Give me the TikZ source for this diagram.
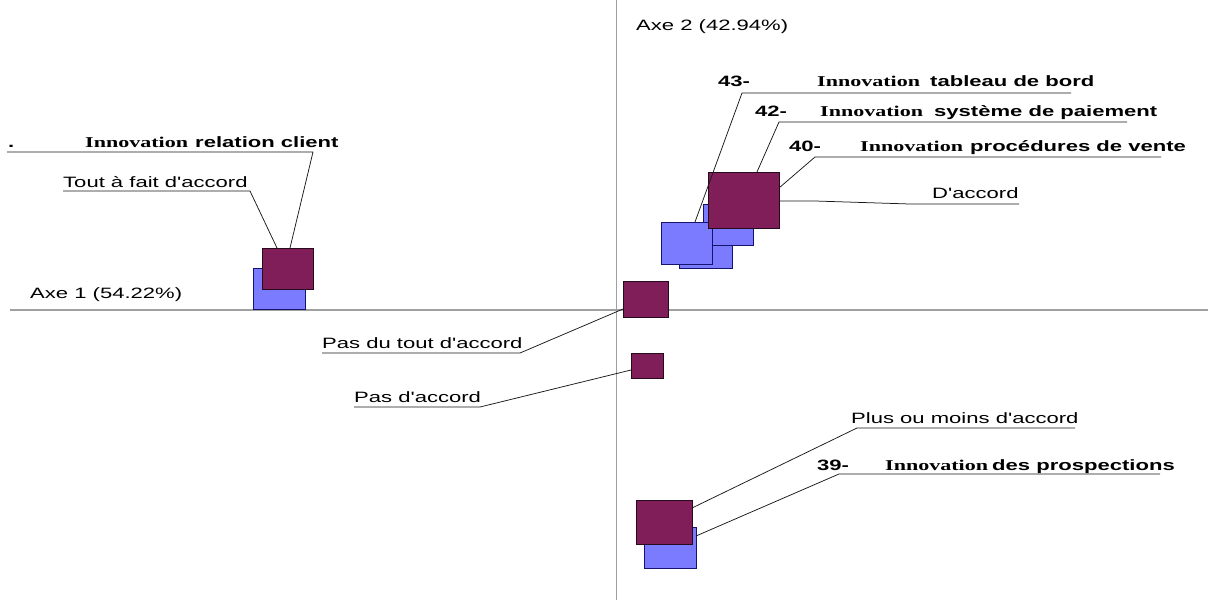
\documentclass[tikz,border=0pt]{standalone}
\usepackage{fontspec}
\newfontfamily\arialx[FakeStretch=1.47]{Liberation Sans}
\newfontfamily\timesx[FakeStretch=1.47]{Liberation Serif}
\definecolor{purp}{RGB}{128,30,90}
\definecolor{purpline}{RGB}{40,10,30}
\definecolor{bluefill}{RGB}{123,123,255}
\definecolor{blueline}{RGB}{20,20,110}
\definecolor{axisgray}{RGB}{160,160,160}
\definecolor{leader}{RGB}{25,25,25}
\tikzset{
  lbl/.style={anchor=base west, inner sep=0pt, font=\arialx\fontsize{15}{18}\selectfont},
  blbl/.style={lbl, font=\arialx\bfseries\fontsize{15}{18}\selectfont},
  inno/.style={lbl, font=\timesx\bfseries\fontsize{15}{18}\selectfont},
  psq/.style={draw=purpline, fill=purp, line width=1pt},
  bsq/.style={draw=blueline, fill=bluefill, line width=1pt},
  axisline/.style={draw=axisgray, line width=1.4pt},
  leaderline/.style={draw=leader, line width=0.75pt}
}
\begin{document}
\begin{tikzpicture}[x=1pt,y=-1pt]
\useasboundingbox (0,0) rectangle (1208,600);
\fill[white] (0,0) rectangle (1208,600);
% axes
\coordinate (vtop) at (616.5,0);
\coordinate (vbot) at (616.5,600);
\coordinate (hl) at (10,310);
\coordinate (hr) at (1208,310);
\draw[axisline] (vtop) -- (vbot);
\draw[axisline] (hl) -- (hr);
% squares
\path[bsq] (253,268) rectangle (305,309);
\path[psq] (262,248) rectangle (313,289);
\path[bsq] (679,226) rectangle (732,268);
\path[bsq] (703,204) rectangle (753,245);
\path[bsq] (661,222) rectangle (712,264);
\path[psq] (708,172) rectangle (779,228);
\path[psq] (623,281) rectangle (668,317);
\path[psq] (631,353) rectangle (663,378);
\path[bsq] (644,527) rectangle (696,568);
\path[psq] (636,500) rectangle (692,544);
% leader end points
\coordinate (rcA) at (7,152);   \coordinate (rcB) at (313,152);  \coordinate (rcC) at (290,248);
\coordinate (tfA) at (63,191);  \coordinate (tfB) at (250,191);  \coordinate (tfC) at (277,248);
\coordinate (l43A) at (1071,93); \coordinate (l43B) at (742,93); \coordinate (l43C) at (695,222);
\coordinate (l42A) at (1127,122); \coordinate (l42B) at (779,122); \coordinate (l42C) at (757,172);
\coordinate (l40A) at (1161,157); \coordinate (l40B) at (815,157); \coordinate (l40C) at (779,188);
\coordinate (daA) at (779,201); \coordinate (daB) at (815,201); \coordinate (daC) at (910,204); \coordinate (daD) at (1019,204);
\coordinate (ptA) at (322,353); \coordinate (ptB) at (520,353); \coordinate (ptC) at (623,309);
\coordinate (paA) at (354,407); \coordinate (paB) at (480,407); \coordinate (paC) at (631,370);
\coordinate (pmA) at (1075,428); \coordinate (pmB) at (857,428); \coordinate (pmC) at (692,508);
\coordinate (l39A) at (1160,474); \coordinate (l39B) at (839,474); \coordinate (l39C) at (696,536);
\draw[leaderline] (rcA) -- (rcB) -- (rcC);
\draw[leaderline] (tfA) -- (tfB) -- (tfC);
\draw[leaderline] (l43A) -- (l43B) -- (l43C);
\draw[leaderline] (l42A) -- (l42B) -- (l42C);
\draw[leaderline] (l40A) -- (l40B) -- (l40C);
\draw[leaderline] (daA) -- (daB) -- (daC) -- (daD);
\draw[leaderline] (ptA) -- (ptB) -- (ptC);
\draw[leaderline] (paA) -- (paB) -- (paC);
\draw[leaderline] (pmA) -- (pmB) -- (pmC);
\draw[leaderline] (l39A) -- (l39B) -- (l39C);
% texts
\node[lbl] (ax2) at (636,30) {Axe 2 (42.94\%)};
\node[lbl] (ax1) at (30,298) {Axe 1 (54.22\%)};
\node[blbl] (n43) at (718,86) {43-};
\node[inno] (i43) at (817,86) {Innovation};
\node[blbl] (t43) at (930,86) {tableau de bord};
\node[blbl] (n42) at (755,116) {42-};
\node[inno] (i42) at (820,116) {Innovation};
\node[blbl] (t42) at (934,116) {système de paiement};
\node[blbl] (n40) at (789,151) {40-};
\node[inno] (i40) at (860,151) {Innovation};
\node[blbl] (t40) at (970,151) {procédures de vente};
\node[lbl] (dacc) at (932,198) {D'accord};
\node[blbl] (dot) at (8,147) {.};
\node[inno] (irc) at (85,147) {Innovation};
\node[blbl] (trc) at (195,147) {relation client};
\node[lbl] (tfa) at (63,187) {Tout à fait d'accord};
\node[lbl] (pdt) at (322,348) {Pas du tout d'accord};
\node[lbl] (pda) at (354,402) {Pas d'accord};
\node[lbl] (pmd) at (851,423) {Plus ou moins d'accord};
\node[blbl] (n39) at (817,470) {39-};
\node[inno] (i39) at (885,470) {Innovation};
\node[blbl] (t39) at (992,470) {des prospections};
\end{tikzpicture}
\end{document}
